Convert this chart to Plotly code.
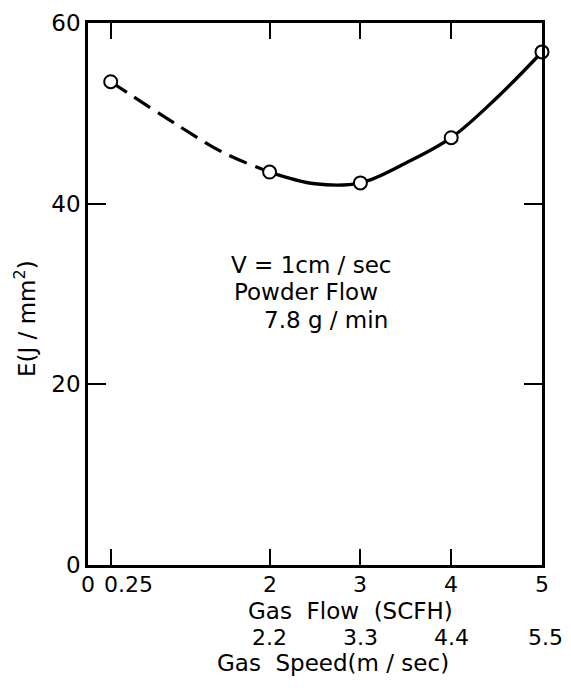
import plotly.graph_objects as go

# Measured points (Gas flow SCFH, E J/mm^2)
flow_pts = [0.25, 2, 3, 4, 5]
energy_pts = [53.5, 43.5, 42.3, 47.3, 56.8]

# Curve as drawn
dash_x = [0.25, 1.0, 1.5, 2.0]
dash_y = [53.5, 48.6, 45.6, 43.5]
solid_x = [2.0, 2.5, 3.0, 3.5, 4.0, 4.5, 5.0]
solid_y = [43.5, 42.2, 42.3, 44.5, 47.3, 51.7, 56.8]

# Axis labelling
flow_ticks = [0, 0.25, 2, 3, 4, 5]
flow_labels = ["0", "0.25", "2", "3", "4", "5"]
speed_ticks = [2, 3, 4, 5]
speed_labels = ["2.2", "3.3", "4.4", "5.5"]
e_ticks = [0, 20, 40, 60]

FONT = "DejaVu Sans"
FS = 22
TFS = 23
NB = "\u00a0"

# page body has an 8px margin: figure is drawn 8px in from the window corner
W, H = 555, 672
L, R, T, B = 80, 21, 15, 115
PW, PH = W - L - R, H - T - B


def px(x, y):
    return (x - L) / PW, (H - B - y) / PH


fig = go.Figure()
fig.add_trace(go.Scatter(x=dash_x, y=dash_y, mode="lines",
                         line=dict(color="black", width=3.2, dash="19px,9px", shape="spline"),
                         showlegend=False, hoverinfo="skip"))
fig.add_trace(go.Scatter(x=solid_x, y=solid_y, mode="lines",
                         line=dict(color="black", width=3.4, shape="spline"),
                         showlegend=False, hoverinfo="skip"))
fig.add_trace(go.Scatter(x=flow_pts, y=energy_pts, mode="markers",
                         marker=dict(symbol="circle", size=13, color="white",
                                     line=dict(color="black", width=2)),
                         showlegend=False, cliponaxis=False))

fig.update_xaxes(range=[0, 5], showgrid=False, zeroline=False,
                 showline=True, linecolor="black", linewidth=2.5, mirror="ticks",
                 tickvals=[0.25, 2, 3, 4], ticks="inside", ticklen=16, tickwidth=1.5,
                 tickcolor="black", showticklabels=False)
fig.update_yaxes(range=[0, 60], showgrid=False, zeroline=False,
                 showline=True, linecolor="black", linewidth=2.5, mirror="ticks",
                 tickvals=e_ticks, ticks="inside", ticklen=18, tickwidth=1.5,
                 tickcolor="black",
                 tickfont=dict(family=FONT, size=FS + 1, color="black"))

ann = []
for v, t in zip(flow_ticks, flow_labels):
    ann.append(dict(x=v, y=0, xref="x", yref="paper", text=t, showarrow=False,
                    xanchor="center", yanchor="middle", yshift=-19,
                    xshift=(18 if t == "0.25" else 0),
                    font=dict(family=FONT, size=FS, color="black")))
for v, t in zip(speed_ticks, speed_labels):
    ann.append(dict(x=v, y=0, xref="x", yref="paper", text=t, showarrow=False,
                    xanchor="center", yanchor="middle", yshift=-72,
                    xshift=(3 if t == "5.5" else 0),
                    font=dict(family=FONT, size=FS, color="black")))

x1, y1 = px(342, 603)
ann.append(dict(x=x1, y=y1, xref="paper", yref="paper", xanchor="center", yanchor="middle",
                text=f"Gas{NB}{NB}Flow{NB}{NB}(SCFH)",
                showarrow=False, font=dict(family=FONT, size=TFS, color="black")))
x2, y2 = px(325, 655)
ann.append(dict(x=x2, y=y2, xref="paper", yref="paper", xanchor="center", yanchor="middle",
                text=f"Gas{NB}{NB}Speed(m{NB}/{NB}sec)",
                showarrow=False, font=dict(family=FONT, size=TFS, color="black")))
x3, y3 = px(17, 311)
ann.append(dict(x=x3, y=y3, xref="paper", yref="paper", xanchor="center", yanchor="middle",
                text=f"E(J{NB}/{NB}mm<sup>2</sup>)", textangle=-90, showarrow=False,
                font=dict(family=FONT, size=TFS, color="black")))

# inset text
ann.append(dict(x=1.55, y=33.2, xref="x", yref="y", text="V = 1cm / sec",
                xanchor="left", yanchor="middle",
                showarrow=False, font=dict(family=FONT, size=FS + 1, color="black")))
ann.append(dict(x=1.59, y=30.2, xref="x", yref="y", text="Powder Flow",
                xanchor="left", yanchor="middle",
                showarrow=False, font=dict(family=FONT, size=FS + 1, color="black")))
ann.append(dict(x=1.92, y=27.1, xref="x", yref="y", text="7.8 g / min",
                xanchor="left", yanchor="middle",
                showarrow=False, font=dict(family=FONT, size=FS + 1, color="black")))

fig.update_layout(
    width=W, height=H,
    margin=dict(l=L, r=R, t=T, b=B, autoexpand=False),
    paper_bgcolor="white", plot_bgcolor="white",
    font=dict(family=FONT, size=FS, color="black"),
    annotations=ann,
)

fig.write_html("out.html")
